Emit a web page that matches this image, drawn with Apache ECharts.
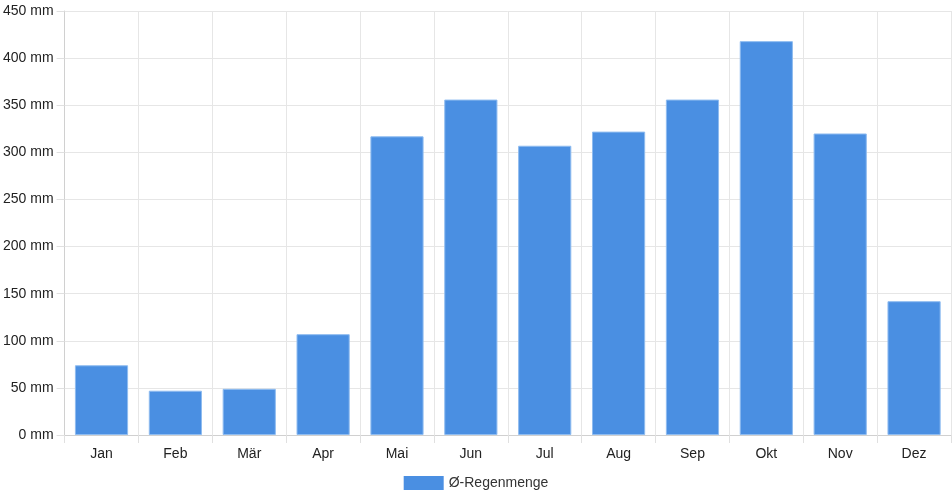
<!DOCTYPE html>
<html>
<head>
<meta charset="utf-8">
<script src="https://cdn.jsdelivr.net/npm/echarts@6/dist/echarts.min.js"></script>
<style>html,body{margin:0;padding:0;background:#fff}#c{width:952px;height:500px}</style>
</head>
<body>
<div id="c"></div>
<script>
const categories = ['Jan','Feb','Mär','Apr','Mai','Jun','Jul','Aug','Sep','Okt','Nov','Dez'];
const rainfall = [74, 47, 49, 107, 317, 356, 307, 322, 356, 418, 320, 142];
const seriesName = 'Ø-Regenmenge';

const chart = echarts.init(document.getElementById('c'));
const font = 'Liberation Sans, Arial, Helvetica, sans-serif';
chart.setOption({
  animation: false,
  textStyle: { fontFamily: font },
  grid: { left: 64, right: 1, top: 11, bottom: 65, containLabel: false },
  legend: {
    bottom: 5, left: 'center',
    itemWidth: 40, itemHeight: 14, itemGap: 10,
    icon: 'rect',
    itemStyle: { borderWidth: 0 },
    textStyle: { fontSize: 14, color: '#333', fontFamily: font },
    data: [seriesName]
  },
  xAxis: {
    type: 'category',
    data: categories,
    boundaryGap: true,
    axisLine: { show: true, lineStyle: { color: '#d0d0d0', width: 1 } },
    axisTick: { show: true, interval: 0, length: 8, lineStyle: { color: '#e0e0e0' } },
    splitLine: { show: true, interval: 0, lineStyle: { color: '#e6e6e6' } },
    axisLabel: { fontSize: 14, color: '#222', margin: 12, fontFamily: font, interval: 0 }
  },
  yAxis: {
    type: 'value',
    min: 0, max: 450, interval: 50,
    axisLine: { show: true, lineStyle: { color: '#d0d0d0', width: 1 } },
    axisTick: { show: true, length: 8, lineStyle: { color: '#e0e0e0' } },
    splitLine: { show: true, lineStyle: { color: '#e6e6e6' } },
    axisLabel: { fontSize: 14, color: '#222', margin: 11, fontFamily: font, formatter: v => v + ' mm' }
  },
  series: [{
    name: seriesName,
    type: 'bar',
    data: rainfall,
    barCategoryGap: '28%',
    itemStyle: { color: '#4a8fe2', borderColor: '#8fbcf0', borderWidth: 1 }
  }]
});
</script>
</body>
</html>
